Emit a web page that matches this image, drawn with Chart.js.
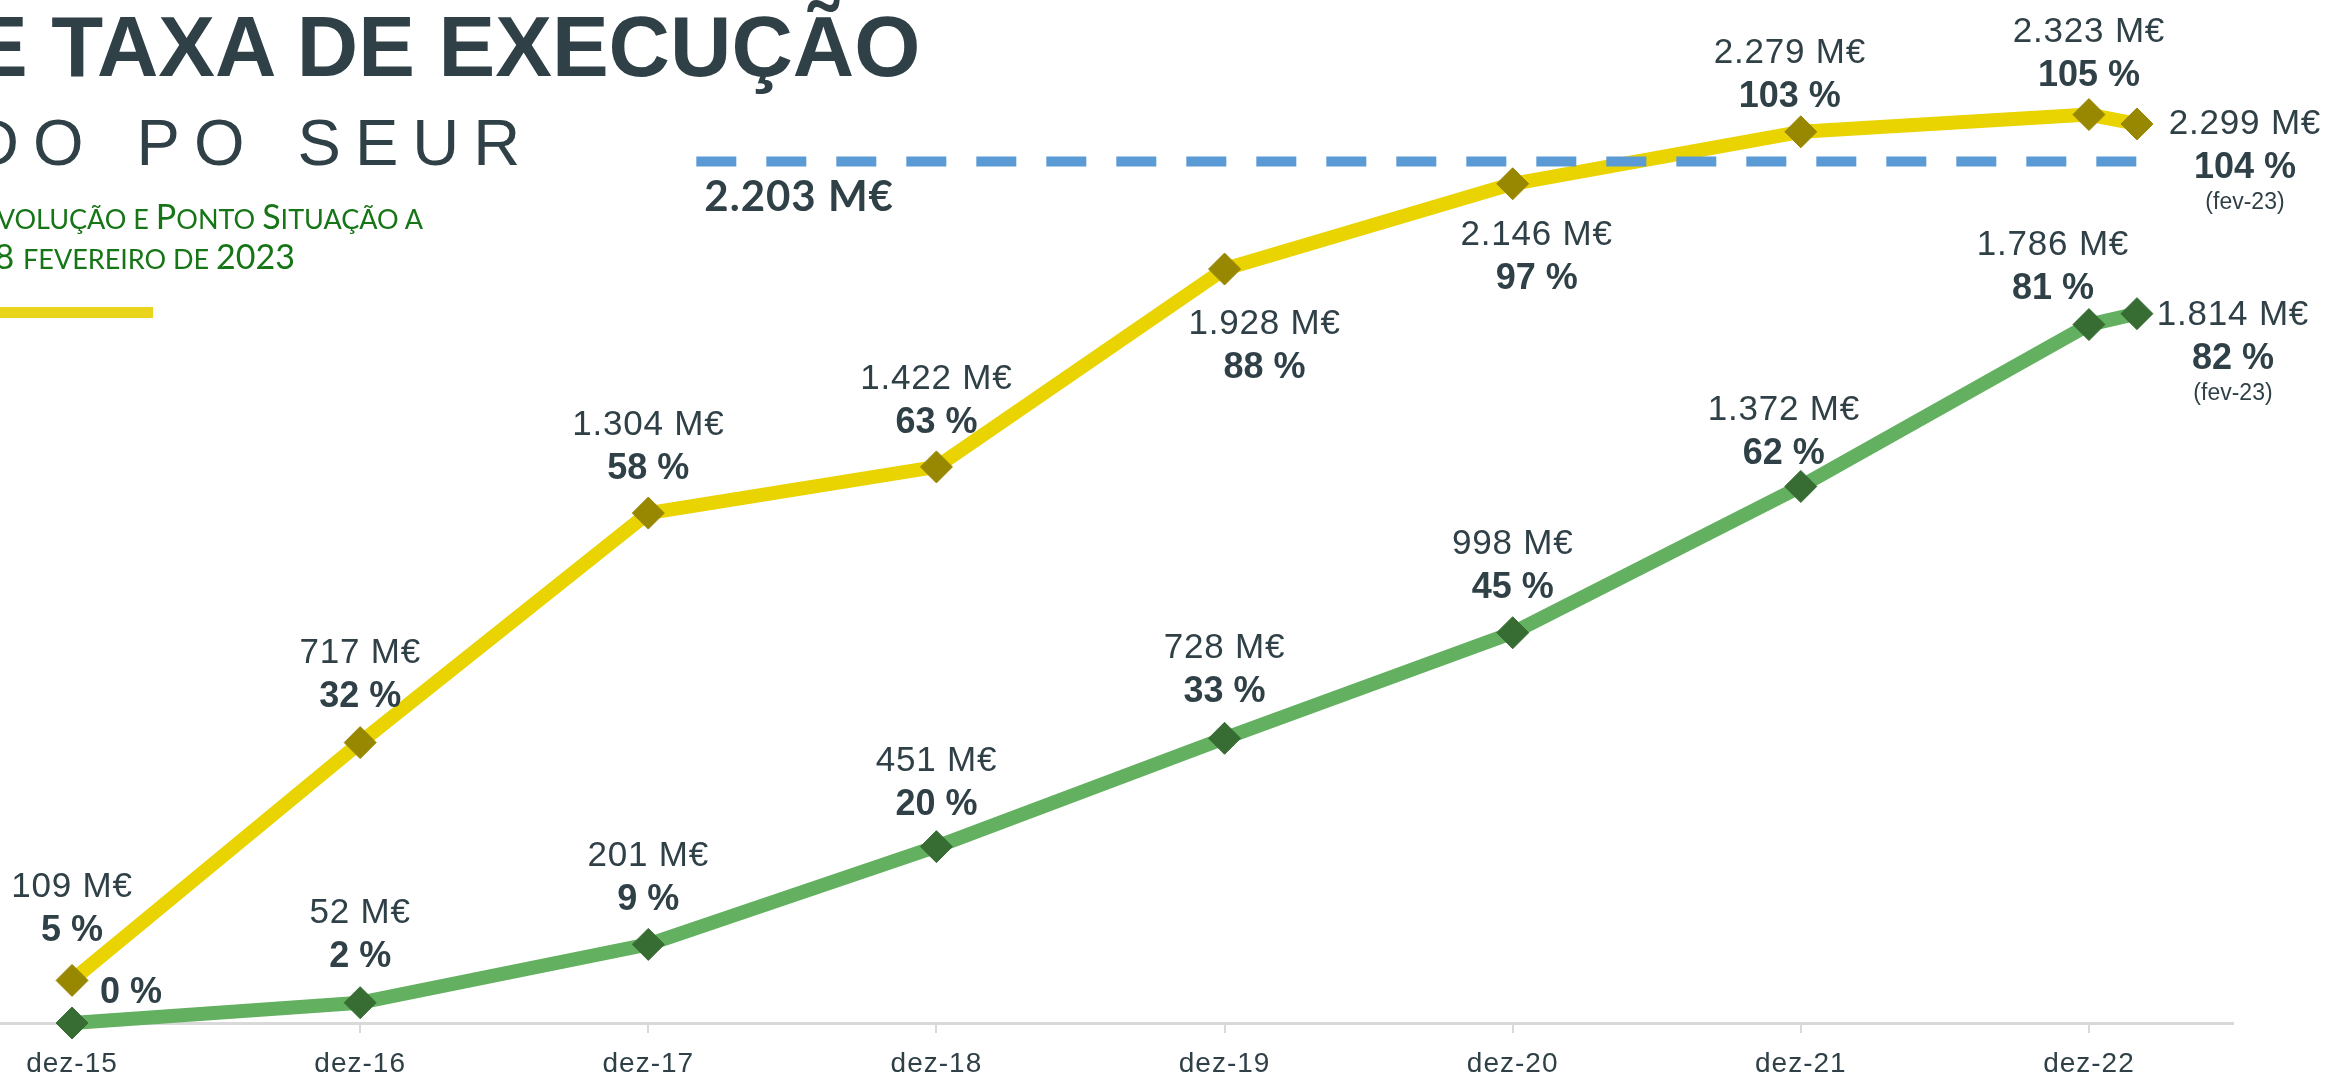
<!DOCTYPE html>
<html lang="pt">
<head>
<meta charset="utf-8">
<title>Taxa de execução do PO SEUR</title>
<script src="https://cdn.jsdelivr.net/npm/chart.js@4.4.1/dist/chart.umd.min.js"></script>
<style>
  html, body { margin:0; padding:0; background:#ffffff; overflow:hidden; }
  #wrap { position:relative; width:2329px; height:1076px; overflow:hidden; }
  #c { position:absolute; left:0; top:0; }
  .ov { position:absolute; white-space:nowrap; pointer-events:none; }
  #title { left:-29px; top:4px; font:bold 85px/85px "Liberation Sans", Arial, sans-serif; color:#2f4047; }
  #subtitle { left:-28px; top:110px; font:400 65px/65px "Liberation Sans", Arial, sans-serif; color:#2f4047; letter-spacing:14px; word-spacing:7px; }
  .green { font:400 34px/34px Lato, "Open Sans", sans-serif; color:#167516; text-align:right; }
  .green .sc { font-size:27px; line-height:0; text-transform:uppercase; }
  #l1 { right:1906px; top:199px; }
  #l2 { right:2034px; top:239px; }
  #bar { position:absolute; left:0; top:307px; width:153px; height:11px; background:#e8d51c; }
</style>
</head>
<body>
<div id="wrap">
  <canvas id="c" width="2329" height="1076"></canvas>
  <div class="ov" id="title">E TAXA DE EXECUÇÃO</div>
  <div class="ov" id="subtitle">DO PO SEUR</div>
  <div class="ov green" id="l1">E<span class="sc">volução e </span>P<span class="sc">onto </span>S<span class="sc">ituação a</span></div>
  <div class="ov green" id="l2">28 <span class="sc">fevereiro de </span>2023</div>
  <div id="bar"></div>
</div>
<script>
// ---- data ----
const categories = ['dez-15','dez-16','dez-17','dez-18','dez-19','dez-20','dez-21','dez-22','fev-23'];
const monthsFromStart = [0, 12, 24, 36, 48, 60, 72, 84, 86];
const tickMonths = [0, 12, 24, 36, 48, 60, 72, 84];
const tickLabels = ['dez-15','dez-16','dez-17','dez-18','dez-19','dez-20','dez-21','dez-22'];
const compromissoValues = [109, 717, 1304, 1422, 1928, 2146, 2279, 2323, 2299];
const compromissoPct    = [5, 32, 58, 63, 88, 97, 103, 105, 104];
const execucaoValues    = [0, 52, 201, 451, 728, 998, 1372, 1786, 1814];
const execucaoPct       = [0, 2, 9, 20, 33, 45, 62, 81, 82];
const dotacaoValue = 2203;
const dotacaoStartMonth = 26;

// ---- label layout (offsets of the "%" line from its marker) ----
const compLabelDx = [0, 0, 0, 0, 40, 24, -11, 0, 108];
const compLabelDy = [-39, -36, -34, -34, 109, 105, -25, -29, 54];
const execLabelDx = [59, 0, 0, 0, 0, 0, -17, -36, 96];
const execLabelDy = [-20, -36, -34, -32, -36, -35, -22, -26, 55];

const TEXT = '#2f4047';
const fmt = v => String(v).replace(/\B(?=(\d{3})+(?!\d))/g, '.');

const spacingPlugin = {
  id: 'spacing',
  beforeDraw(chart) { chart.ctx.letterSpacing = '1px'; },
  beforeDatasetsDraw(chart) { chart.ctx.letterSpacing = '0px'; }
};

const labelPlugin = {
  id: 'valueLabels',
  afterDatasetsDraw(chart) {
    const ctx = chart.ctx;
    const xs = chart.scales.x, ys = chart.scales.y;
    ctx.save();
    ctx.fillStyle = TEXT;
    ctx.textAlign = 'center';
    ctx.textBaseline = 'alphabetic';
    const groups = [
      { meta: chart.getDatasetMeta(1), vals: compromissoValues, pct: compromissoPct, dx: compLabelDx, dy: compLabelDy },
      { meta: chart.getDatasetMeta(2), vals: execucaoValues, pct: execucaoPct, dx: execLabelDx, dy: execLabelDy }
    ];
    const last = categories.length - 1;
    groups.forEach(g => {
      g.meta.data.forEach((pt, i) => {
        const cx = pt.x + g.dx[i];
        const by = pt.y + g.dy[i];
        if (g.vals[i] > 0) {
          ctx.letterSpacing = '0.8px';
          ctx.font = '35px "Liberation Sans", Arial, sans-serif';
          ctx.fillText(fmt(g.vals[i]) + ' M€', cx, by - 44);
        }
        ctx.letterSpacing = '0px';
        ctx.font = 'bold 36px "Liberation Sans", Arial, sans-serif';
        ctx.fillText(g.pct[i] + ' %', cx, by);
        if (i === last) {
          ctx.font = '23px "Liberation Sans", Arial, sans-serif';
          ctx.fillText('(' + categories[i] + ')', cx, by + 31);
        }
      });
    });
    // dotação label
    ctx.textAlign = 'left';
    ctx.letterSpacing = '1px';
    ctx.font = 'bold 42px Lato, "Open Sans", sans-serif';
    ctx.fillText(fmt(dotacaoValue) + ' M€', xs.getPixelForValue(dotacaoStartMonth) + 8, ys.getPixelForValue(dotacaoValue) + 49);
    ctx.restore();
  }
};

const pts = vals => monthsFromStart.map((m, i) => ({ x: m, y: vals[i] }));

new Chart(document.getElementById('c'), {
  type: 'line',
  data: {
    datasets: [
      {
        label: 'Dotação do PO SEUR',
        data: [{ x: dotacaoStartMonth, y: dotacaoValue }, { x: monthsFromStart[monthsFromStart.length - 1], y: dotacaoValue }],
        borderColor: '#5b9bd5', borderWidth: 10, borderDash: [40, 30], borderCapStyle: 'butt',
        pointRadius: 0, order: 0, clip: false
      },
      {
        label: 'Compromisso',
        data: pts(compromissoValues),
        borderColor: '#e9d300', borderWidth: 14, borderJoinStyle: 'round', tension: 0,
        pointStyle: 'rectRot', pointRadius: 16, pointBackgroundColor: '#988700', pointBorderColor: '#988700', pointBorderWidth: 1,
        order: 1, clip: false
      },
      {
        label: 'Execução',
        data: pts(execucaoValues),
        borderColor: '#63b160', borderWidth: 14, borderJoinStyle: 'round', tension: 0,
        pointStyle: 'rectRot', pointRadius: 16, pointBackgroundColor: '#376d33', pointBorderColor: '#376d33', pointBorderWidth: 1,
        order: 2, clip: false
      }
    ]
  },
  options: {
    responsive: false,
    animation: false,
    devicePixelRatio: 1,
    layout: { autoPadding: false, padding: { left: 0, top: 0, right: 96, bottom: 0 } },
    plugins: { legend: { display: false }, tooltip: { enabled: false } },
    scales: {
      x: {
        type: 'linear', min: -3, max: 90, offset: false,
        afterBuildTicks: s => { s.ticks = tickMonths.map(v => ({ value: v })); },
        afterFit: s => { s.height = 53; s.paddingLeft = 0; s.paddingRight = 0; },
        ticks: {
          callback: (v, i) => tickLabels[i],
          font: { family: '"Liberation Sans", Arial, sans-serif', size: 28 },
          color: TEXT, padding: 14, maxRotation: 0, autoSkip: false
        },
        grid: { drawOnChartArea: false, drawTicks: true, tickLength: 10, color: '#d9d9d9', lineWidth: 2 },
        border: { display: true, color: '#d9d9d9', width: 3 }
      },
      y: { display: false, min: 0, max: 2616 }
    }
  },
  plugins: [spacingPlugin, labelPlugin]
});
</script>
</body>
</html>
